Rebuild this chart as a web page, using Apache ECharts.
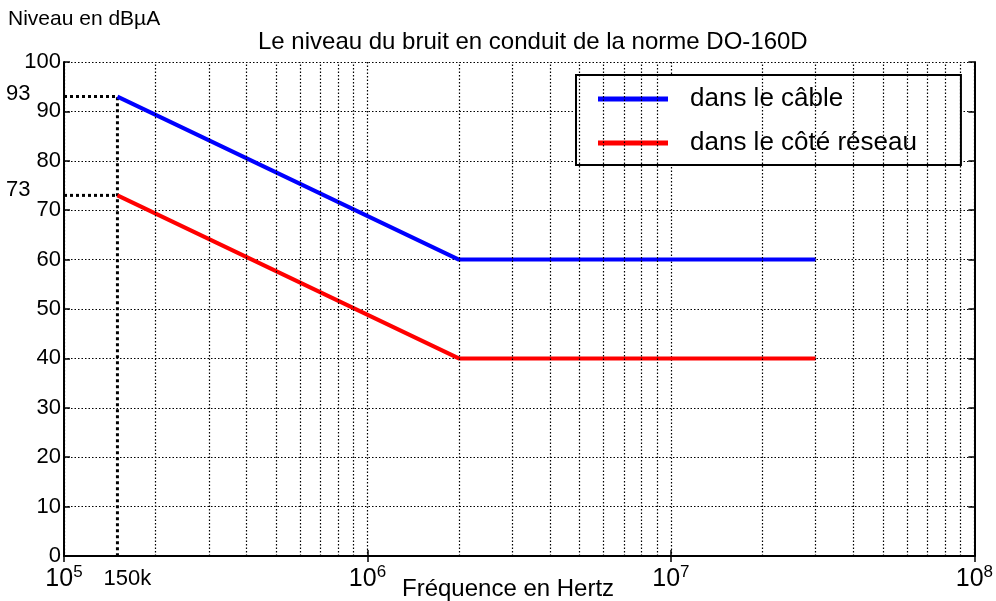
<!DOCTYPE html>
<html>
<head>
<meta charset="utf-8">
<script src="https://cdn.jsdelivr.net/npm/echarts@6/dist/echarts.min.js"></script>
<style>html,body{margin:0;padding:0;background:#fff}#c{width:996px;height:601px}</style>
</head>
<body>
<div id="c"></div>
<script>
// ---- data ----
const seriesNames = ['dans le câble', 'dans le côté réseau'];
const freqHz = [150000, 2000000, 30000000];
const levelCable = [93, 60, 60];
const levelReseau = [73, 40, 40];
const refFreqStart = 100000;
const refFreq = 150000;
const refLevels = [93, 73];
const refLabels = ['93', '73', '150k'];
const minorTicks = [2e5,3e5,4e5,5e5,6e5,7e5,8e5,9e5,2e6,3e6,4e6,5e6,6e6,7e6,8e6,9e6,2e7,3e7,4e7,5e7,6e7,7e7,8e7,9e7];
const xMin = 1e5, xMax = 1e8;
const yMin = 0, yMax = 100, yStep = 10;
const titleText = 'Le niveau du bruit en conduit de la norme DO-160D';
const yName = 'Niveau en dBµA';
const xName = 'Fréquence en Hertz';

const FONT = 'Liberation Sans, Arial, sans-serif';
const zip = (xs, ys) => xs.map((x, i) => [x, ys[i]]);
const dotted = { color: '#000', width: 1.2, type: [1.5, 2] };
const lbl = (text, position, offset) => ({
  show: true, formatter: text, position: position, offset: offset,
  fontFamily: FONT, fontSize: 22, color: '#000', opacity: 1, textBorderWidth: 0
});

const chart = echarts.init(document.getElementById('c'));
chart.setOption({
  animation: false,
  backgroundColor: '#fff',
  textStyle: { fontFamily: FONT, color: '#000' },
  title: [
    { text: titleText, left: 258, top: 30, padding: 0,
      textStyle: { fontFamily: FONT, fontSize: 24, fontWeight: 'normal', color: '#000' } },
    { text: yName, left: 8, top: 9, padding: 0,
      textStyle: { fontFamily: FONT, fontSize: 21, fontWeight: 'normal', color: '#000' } },
    { text: xName, left: 402, top: 577, padding: 0,
      textStyle: { fontFamily: FONT, fontSize: 24, fontWeight: 'normal', color: '#000' } }
  ],
  legend: {
    data: seriesNames,
    orient: 'vertical',
    left: 576, top: 75,
    padding: [11, 44, 9, 22],
    itemGap: 18,
    itemWidth: 70, itemHeight: 5,
    icon: 'rect',
    backgroundColor: '#fff',
    borderColor: '#000', borderWidth: 2,
    textStyle: { fontFamily: FONT, fontSize: 26, color: '#000', padding: [0, 0, 0, 17] }
  },
  grid: { left: 64, right: 18, top: 62, bottom: 45, containLabel: false },
  xAxis: [{
    type: 'log', logBase: 10, min: xMin, max: xMax,
    axisLine: { show: true, lineStyle: { color: '#000', width: 2 } },
    axisTick: { show: true, inside: true, length: 6, lineStyle: { color: '#000', width: 1.5 } },
    splitLine: { show: true, lineStyle: dotted },
    axisLabel: {
      margin: 8,
      formatter: v => '{b|10}{s|' + Math.round(Math.log10(v)) + '}',
      rich: {
        b: { fontFamily: FONT, fontSize: 25, color: '#000' },
        s: { fontFamily: FONT, fontSize: 17, color: '#000', padding: [0, 0, 14, 0] }
      }
    }
  }, {
    type: 'log', logBase: 10, min: xMin, max: xMax, position: 'top',
    axisLine: { show: true, lineStyle: { color: '#000', width: 2 } },
    axisTick: { show: true, inside: true, length: 6, lineStyle: { color: '#000', width: 1.5 } },
    axisLabel: { show: false }, splitLine: { show: false }
  }],
  yAxis: [{
    type: 'value', min: yMin, max: yMax, interval: yStep,
    axisLine: { show: true, lineStyle: { color: '#000', width: 2 } },
    axisTick: { show: true, inside: true, length: 6, lineStyle: { color: '#000', width: 1.5 } },
    splitLine: { show: true, lineStyle: dotted },
    axisLabel: { margin: 3, fontFamily: FONT, fontSize: 22, color: '#000' }
  }, {
    type: 'value', min: yMin, max: yMax, interval: yStep, position: 'right',
    axisLine: { show: true, lineStyle: { color: '#000', width: 2 } },
    axisTick: { show: true, inside: true, length: 6, lineStyle: { color: '#000', width: 1.5 } },
    axisLabel: { show: false }, splitLine: { show: false }
  }],
  series: [
    {
      name: 'minor-grid', type: 'line', data: [], silent: true, z: 1,
      markLine: {
        silent: true, symbol: 'none', label: { show: false },
        lineStyle: dotted,
        data: minorTicks.map(v => ({ xAxis: v }))
      }
    },
    {
      name: 'ref-93', type: 'line', silent: true, symbol: 'none', z: 3,
      data: [[refFreqStart, refLevels[0]], [refFreq, refLevels[0]], [refFreq, yMin]],
      lineStyle: { color: '#000', width: 3, type: [3, 3] }
    },
    {
      name: 'ref-73', type: 'line', silent: true, symbol: 'none', z: 3,
      data: [[refFreqStart, refLevels[1]], [refFreq, refLevels[1]]],
      lineStyle: { color: '#000', width: 3, type: [3, 3] }
    },
    {
      name: 'ref-labels', type: 'scatter', silent: true, symbol: 'circle', symbolSize: 1, z: 5,
      itemStyle: { color: 'rgba(0,0,0,0)', opacity: 1 },
      data: [
        { value: [refFreqStart, refLevels[0]], label: lbl(refLabels[0], 'left', [-28, -3]) },
        { value: [refFreqStart, refLevels[1]], label: lbl(refLabels[1], 'left', [-28, -5]) },
        { value: [refFreq, yMin], label: lbl(refLabels[2], 'bottom', [10, 6]) }
      ]
    },
    {
      name: seriesNames[0], type: 'line', symbol: 'none', z: 4,
      data: zip(freqHz, levelCable),
      itemStyle: { color: '#0000ff' },
      lineStyle: { color: '#0000ff', width: 4 }
    },
    {
      name: seriesNames[1], type: 'line', symbol: 'none', z: 4,
      data: zip(freqHz, levelReseau),
      itemStyle: { color: '#ff0000' },
      lineStyle: { color: '#ff0000', width: 4 }
    }
  ]
});
</script>
</body>
</html>
